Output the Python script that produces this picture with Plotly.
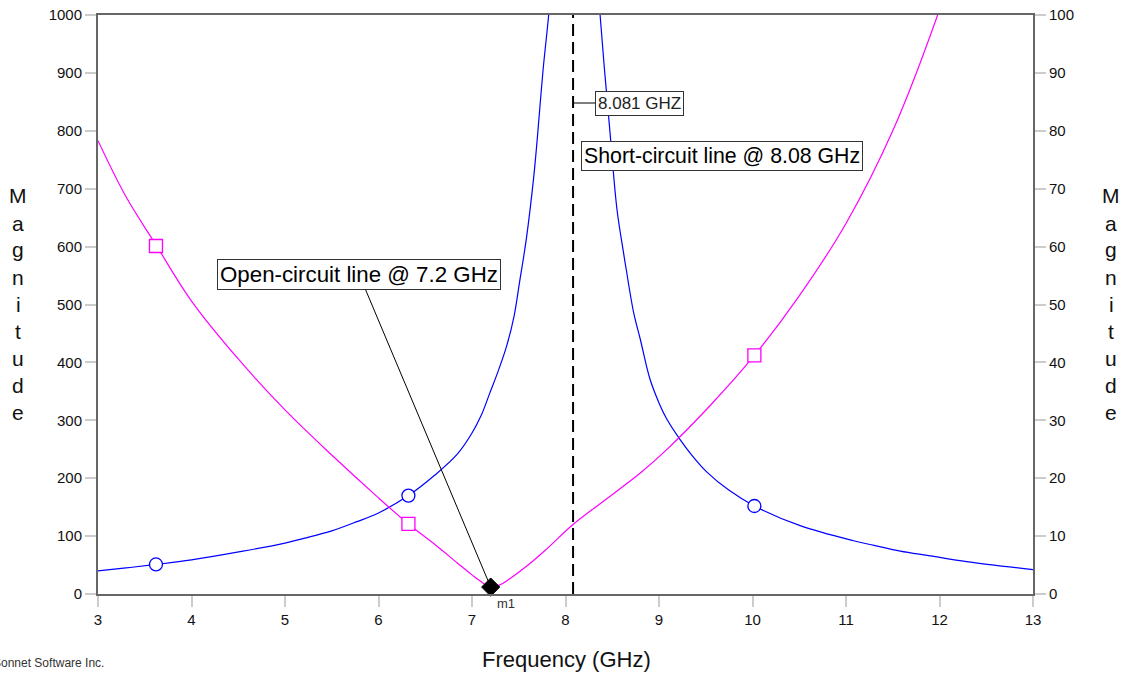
import plotly.graph_objects as go

# ---- data ----
blue_f_left = [3.0, 3.3, 3.62, 4.0, 4.55, 5.0, 5.2, 5.5, 5.77, 6.0, 6.32, 6.6, 6.84, 7.0, 7.1, 7.19, 7.28, 7.37, 7.45, 7.51, 7.58, 7.66, 7.7, 7.76, 7.82, 7.86]
blue_z_left = [40, 45, 51, 59, 74, 88, 96, 109, 125, 140, 170, 205, 241, 278, 309, 347, 385, 428, 480, 540, 612, 720, 790, 905, 1000, 1080]
blue_f_right = [8.34, 8.37, 8.42, 8.48, 8.55, 8.62, 8.65, 8.73, 8.80, 8.90, 9.0, 9.08, 9.22, 9.35, 9.51, 9.75, 10.02, 10.51, 11.08, 11.3, 11.58, 11.9, 12.29, 13.0]
blue_z_right = [1080, 1000, 900, 790, 665, 590, 560, 485, 440, 373, 330, 303, 268, 240, 211, 179, 152, 118, 92, 84, 74, 66, 56, 42]

pink_f = [3.0, 3.3, 3.62, 4.0, 4.5, 5.0, 5.5, 6.0, 6.32, 6.6, 6.84, 7.0, 7.1, 7.2, 7.3, 7.4, 7.6, 7.8, 8.08, 8.37, 8.8, 9.08, 9.55, 10.02, 10.5, 11.0, 11.5, 11.98, 12.1]
pink_z = [78.3, 68.6, 60.3, 50.6, 40.6, 31.8, 24.0, 16.6, 12.1, 8.6, 5.4, 3.3, 2.1, 1.2, 1.6, 2.6, 5.0, 7.8, 12.0, 15.6, 20.9, 24.9, 32.6, 41.2, 51.5, 64.0, 80.0, 100, 106]

marker_f = [3.62, 6.32, 10.02]
blue_marker_z = [51, 170, 152]
pink_marker_z = [60.1, 12.1, 41.2]

m1_f = [7.2]
m1_z = [1.2]

resonance_f = 8.081

x_ticks = list(range(3, 14))
y_left_ticks = list(range(0, 1001, 100))
y_right_ticks = list(range(0, 101, 10))

FONT = "Arial, Liberation Sans, sans-serif"
BLUE = "#0000FF"
PINK = "#FF00FF"

fig = go.Figure()

fig.add_trace(go.Scatter(
    x=blue_f_left + [None] + blue_f_right,
    y=blue_z_left + [None] + blue_z_right,
    mode="lines", line=dict(color=BLUE, width=1.2, shape="spline", smoothing=1.0),
    connectgaps=False, yaxis="y", showlegend=False, hoverinfo="skip"))

fig.add_trace(go.Scatter(
    x=pink_f, y=pink_z, mode="lines",
    line=dict(color=PINK, width=1.2, shape="spline", smoothing=1.0),
    yaxis="y2", showlegend=False, hoverinfo="skip"))

fig.add_trace(go.Scatter(
    x=marker_f, y=blue_marker_z, mode="markers", yaxis="y",
    marker=dict(symbol="circle", size=13, color="white", line=dict(color=BLUE, width=1.3)),
    showlegend=False, hoverinfo="skip"))

fig.add_trace(go.Scatter(
    x=marker_f, y=pink_marker_z, mode="markers", yaxis="y2",
    marker=dict(symbol="square", size=13, color="white", line=dict(color=PINK, width=1.3)),
    showlegend=False, hoverinfo="skip"))

fig.add_trace(go.Scatter(
    x=m1_f, y=m1_z, mode="markers", yaxis="y2",
    marker=dict(symbol="diamond", size=14, color="black", line=dict(color="black", width=1)),
    showlegend=False, hoverinfo="skip", cliponaxis=False))

fig.add_shape(type="line", xref="x", yref="y", x0=resonance_f, x1=resonance_f, y0=0, y1=1000,
              line=dict(color="black", width=2, dash="12px,6px"))

annotations = []
annotations.append(dict(
    x=m1_f[0], y=m1_z[0], xref="x", yref="y2",
    text="Open-circuit line @ 7.2 GHz", showarrow=True, arrowhead=0, arrowwidth=1, arrowcolor="black",
    ax=-131.5, ay=-312.5, font=dict(family=FONT, size=22.3, color="black"),
    bgcolor="white", bordercolor="#333", borderwidth=1, borderpad=2))
annotations.append(dict(
    x=resonance_f, y=848, xref="x", yref="y",
    text="8.081 GHZ", showarrow=True, arrowhead=0, arrowwidth=1, arrowcolor="black",
    ax=66, ay=0, font=dict(family=FONT, size=17, color="#222"),
    bgcolor="white", bordercolor="#333", borderwidth=1, borderpad=2))
annotations.append(dict(
    x=9.679, y=756.5, xref="x", yref="y",
    text="Short-circuit line @ 8.08 GHz", showarrow=False,
    font=dict(family=FONT, size=21.3, color="black"),
    bgcolor="white", bordercolor="#333", borderwidth=1, borderpad=2))
annotations.append(dict(
    x=m1_f[0], y=0, xref="x", yref="y", xshift=15, yshift=-9,
    text="m1", showarrow=False, font=dict(family=FONT, size=13, color="#333")))
annotations.append(dict(
    x=(566 - 98) / 935, y=(594 - 659) / 579, xref="paper", yref="paper",
    xanchor="center", yanchor="middle",
    text="Frequency (GHz)", showarrow=False, font=dict(family=FONT, size=22, color="#111")))
annotations.append(dict(
    x=(106 - 98) / 935, y=(594 - 663) / 579, xref="paper", yref="paper",
    xanchor="right", yanchor="middle",
    text="Sonnet Software Inc.", showarrow=False, font=dict(family=FONT, size=12, color="#333")))
for k, ch in enumerate("Magnitude"):
    ypix = 196 + 27 * k
    for xpix in (18, 1111):
        annotations.append(dict(
            x=(xpix - 98) / 935, y=(594 - ypix) / 579, xref="paper", yref="paper",
            xanchor="center", yanchor="middle",
            text=ch, showarrow=False, font=dict(family=FONT, size=21, color="#111")))

axis_common = dict(showgrid=False, zeroline=False, showline=True, linecolor="#666", linewidth=2,
                   ticks="outside", ticklen=11, tickwidth=1.5, tickcolor="#ccc", automargin=False,
                   tickfont=dict(family=FONT, size=15, color="#111"))

fig.update_layout(
    width=1128, height=675,
    margin=dict(l=98, r=95, t=15, b=81, autoexpand=False),
    paper_bgcolor="white", plot_bgcolor="white",
    showlegend=False,
    annotations=annotations,
    xaxis=dict(range=[3, 13], tickvals=x_ticks, mirror=True, **axis_common),
    yaxis=dict(range=[0, 1000], tickvals=y_left_ticks, **axis_common),
    yaxis2=dict(range=[0, 100], tickvals=y_right_ticks, overlaying="y", side="right", **axis_common),
)

fig.write_html("out.html")
